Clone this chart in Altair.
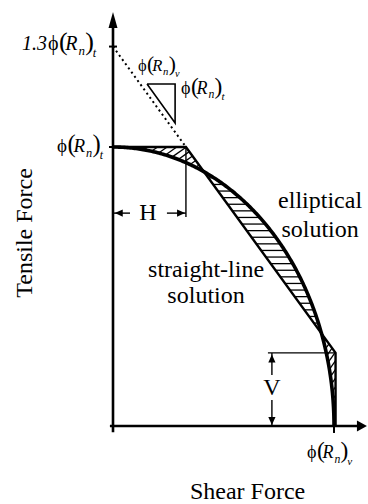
import numpy as np
import pandas as pd
import altair as alt

# Tension / shear interaction for a bolt, in units of phi(Rn)t (vertical) and phi(Rn)v (horizontal)

# straight-line (trilinear) solution vertices
line_x = [0.0, 0.330, 1.007, 1.007]
line_y = [1.0, 1.0, 0.262, 0.0]

# dotted extension of the sloped line to the tension axis
dotted_x = [0.0, 0.330]
dotted_y = [1.36, 1.0]

# tension-axis ticks
tick_y = [1.36, 1.0]

# slope triangle next to the dotted line
tri_x = [0.154, 0.281, 0.281, 0.154]
tri_y = [1.226, 1.226, 1.086, 1.226]

# dimension marks H (at tension 0.763) and V (at shear 0.719)
h_level = 0.763
v_level = 0.719

FONT = "Liberation Serif"
PHI = "\u03d5"

# plot frame
W, H = 368, 504
x_dom = [-0.5113, 1.1538]
y_dom = [-0.2796, 1.5269]
SX = W / (x_dom[1] - x_dom[0])   # px per unit shear
SY = H / (y_dom[1] - y_dom[0])   # px per unit tension

xs = alt.Scale(domain=x_dom, nice=False, zero=False)
ys = alt.Scale(domain=y_dom, nice=False, zero=False)


def X(f="x"):
    return alt.X(f"{f}:Q", scale=xs, axis=None)


def Y(f="y"):
    return alt.Y(f"{f}:Q", scale=ys, axis=None)


# elliptical solution: (V/phiRv)^2 + (T/phiRt)^2 = 1
th = np.linspace(0, np.pi / 2, 241)
ell_x = np.sin(th)
ell_y = np.cos(th)

# crossings of the sloped straight line with the ellipse
m = (line_y[2] - line_y[1]) / (line_x[2] - line_x[1])
b0 = line_y[1] - m * line_x[1]
qa, qb, qc = 1 + m * m, 2 * m * b0, b0 * b0 - 1
disc = np.sqrt(qb * qb - 4 * qa * qc)
cx1, cx2 = sorted([(-qb - disc) / (2 * qa), (-qb + disc) / (2 * qa)])
c1 = (cx1, m * cx1 + b0)
c2 = (cx2, m * cx2 + b0)


def ell_between(xa, xb):
    """ellipse points going from shear xa to xb"""
    t = np.linspace(np.arcsin(xa), np.arcsin(min(xb, 1.0)), 80)
    return list(zip(np.sin(t), np.cos(t)))


lobe_top = [(line_x[0], line_y[0]), (line_x[1], line_y[1]), c1] + ell_between(c1[0], 0.0)
lobe_mid = [c1, c2] + ell_between(c2[0], c1[0])
lobe_bot = [c2, (line_x[2], line_y[2]), (line_x[3], line_y[3])] + ell_between(1.0, c2[0])


def hatch(poly, angle_deg, spacing, phase=0.5):
    """parallel hatch segments clipped to a polygon (spacing in px)"""
    P = np.array([(px * SX, py * SY) for px, py in poly])
    a = np.radians(angle_deg)
    d = np.array([np.cos(a), np.sin(a)])
    n = np.array([-np.sin(a), np.cos(a)])
    proj = P @ n
    segs = []
    c = proj.min() + phase * spacing
    while c < proj.max():
        pts = []
        for i in range(len(P)):
            pa, pb = P[i], P[(i + 1) % len(P)]
            ta, tb = pa @ n - c, pb @ n - c
            if ta * tb < 0:
                q = pa + (pb - pa) * ta / (ta - tb)
                pts.append(q)
        pts.sort(key=lambda q: q @ d)
        for k in range(0, len(pts) - 1, 2):
            p0, p1 = pts[k], pts[k + 1]
            segs.append(dict(x=p0[0] / SX, y=p0[1] / SY, x2=p1[0] / SX, y2=p1[1] / SY))
        c += spacing
    return segs


hatch_df = pd.DataFrame(
    hatch(lobe_top, 35, 5.5) + hatch(lobe_mid, 0, 6.6, 0.6) + hatch(lobe_bot, 55, 5.0)
)

ell_df = pd.DataFrame({"x": ell_x, "y": ell_y, "i": np.arange(len(ell_x))})
line_df = pd.DataFrame({"x": line_x, "y": line_y, "i": range(len(line_x))})
tri_df = pd.DataFrame({"x": tri_x, "y": tri_y, "i": range(len(tri_x))})

# axes, ticks, dotted line and dimension lines as segments
axis_df = pd.DataFrame([
    dict(x=0.0, y=-0.022, x2=0.0, y2=1.45),
    dict(x=-0.014, y=0.0, x2=1.13, y2=0.0),
])
tick_df = pd.DataFrame(
    [dict(x=-0.018, y=t, x2=0.018, y2=t) for t in tick_y]
    + [dict(x=1.0, y=0.0, x2=1.0, y2=-0.025)]
)
dotted_df = pd.DataFrame([dict(x=dotted_x[0], y=dotted_y[0], x2=dotted_x[1], y2=dotted_y[1])])
dim_df = pd.DataFrame([
    dict(x=line_x[1], y=1.0, x2=line_x[1], y2=0.749),          # H extension
    dict(x=0.0, y=h_level, x2=0.077, y2=h_level),               # H left shaft
    dict(x=0.244, y=h_level, x2=line_x[1], y2=h_level),         # H right shaft
    dict(x=0.701, y=line_y[2], x2=line_x[2], y2=line_y[2]),     # V extension
    dict(x=v_level, y=line_y[2], x2=v_level, y2=0.183),         # V upper shaft
    dict(x=v_level, y=0.093, x2=v_level, y2=0.0),               # V lower shaft
])

# arrow heads (tip at the point)
heads = {
    "M0,0L1,-0.45L1,0.45Z": [(0.008, h_level)],
    "M0,0L-1,-0.45L-1,0.45Z": [(line_x[1] - 0.004, h_level)],
    "M0,0L-0.45,1L0.45,1Z": [(v_level, line_y[2] - 0.006)],
    "M0,0L-0.45,-1L0.45,-1Z": [(v_level, 0.004)],
}
axis_heads = {
    "M0,0L-0.28,1L0.28,1Z": ([(0.0, 1.484)], 1024),
    "M0,0L-1,-0.55L-1,0.55Z": ([(1.149, 0.0)], 400),
}

seg = lambda df: alt.Chart(df).encode(x=X(), y=Y(), x2="x2:Q", y2="y2:Q")

layers = []
layers.append(seg(hatch_df).mark_rule(color="black", strokeWidth=1.3))
layers.append(alt.Chart(ell_df).mark_line(color="black", strokeWidth=3.6, strokeJoin="round")
              .encode(x=X(), y=Y(), order="i:Q"))
layers.append(alt.Chart(line_df).mark_line(color="black", strokeWidth=2.4, strokeJoin="miter")
              .encode(x=X(), y=Y(), order="i:Q"))
layers.append(alt.Chart(tri_df).mark_line(color="black", strokeWidth=1.6, strokeJoin="miter")
              .encode(x=X(), y=Y(), order="i:Q"))
layers.append(seg(dotted_df).mark_rule(color="black", strokeWidth=2, strokeDash=[2, 3.2]))
layers.append(seg(axis_df).mark_rule(color="black", strokeWidth=2.6))
layers.append(seg(tick_df).mark_rule(color="black", strokeWidth=2))
layers.append(seg(dim_df).mark_rule(color="black", strokeWidth=1.4))

for shape, pts in heads.items():
    d = pd.DataFrame(pts, columns=["x", "y"])
    layers.append(alt.Chart(d).mark_point(shape=shape, size=256, filled=True, color="black",
                                          opacity=1, strokeWidth=0)
                  .encode(x=X(), y=Y()))
for shape, (pts, sz) in axis_heads.items():
    d = pd.DataFrame(pts, columns=["x", "y"])
    layers.append(alt.Chart(d).mark_point(shape=shape, size=sz, filled=True, color="black",
                                          opacity=1, strokeWidth=0)
                  .encode(x=X(), y=Y()))

# plain words
words = [
    ("elliptical", 0.937, 0.781, 24),
    ("solution", 0.937, 0.677, 24),
    ("straight-line", 0.421, 0.534, 24),
    ("solution", 0.421, 0.441, 24),
    ("Shear Force", 0.609, -0.262, 24),
]
layers.append(alt.Chart(pd.DataFrame(words, columns=["t", "x", "y", "fs"]))
              .mark_text(font=FONT, align="center", baseline="alphabetic", color="black")
              .encode(x=X(), y=Y(), text="t:N", size=alt.Size("fs:Q", scale=None)))
dims = [("H", 0.158, h_level), ("V", v_level, 0.136)]
layers.append(alt.Chart(pd.DataFrame(dims, columns=["t", "x", "y"]))
              .mark_text(font=FONT, align="center", baseline="middle", fontSize=24, color="black")
              .encode(x=X(), y=Y(), text="t:N"))
layers.append(alt.Chart(pd.DataFrame([("Tensile Force", -0.398, 0.692)], columns=["t", "x", "y"]))
              .mark_text(font=FONT, align="center", baseline="middle", fontSize=24, angle=270,
                         color="black")
              .encode(x=X(), y=Y(), text="t:N"))
layers.append(alt.Chart(pd.DataFrame([("1.3", -0.299, 1.348)], columns=["t", "x", "y"]))
              .mark_text(font=FONT, align="right", baseline="alphabetic", fontSize=20,
                         fontStyle="italic", color="black")
              .encode(x=X(), y=Y(), text="t:N"))

# phi(R_n)_sub labels: (left x, baseline y, subscript letter, base font size)
phi_labels = [
    (-0.294, 1.348, "t", 20),
    (-0.253, 0.982, "t", 19),
    (0.113, 1.272, "v", 16.5),
    (0.308, 1.190, "t", 18),
    (0.878, -0.115, "v", 18),
]

# piece layout in em of the base size: text, dx, dy, relative size, italic
PIECES = [
    (PHI, 0.0, 0.0, 1.0, False),
    ("(", 0.55, 0.0, 1.3, False),
    ("R", 0.86, 0.0, 1.0, True),
    ("n", 1.52, 0.25, 0.65, True),
    (")", 1.86, 0.0, 1.3, False),
    (None, 2.24, 0.36, 0.62, True),
]

for lx, ly, sub, s in phi_labels:
    anchor = pd.DataFrame({"x": [lx], "y": [ly]})
    for txt, pdx, pdy, rel, italic in PIECES:
        layers.append(
            alt.Chart(anchor)
            .mark_text(font=FONT, align="left", baseline="alphabetic", color="black",
                       text=txt if txt is not None else sub,
                       dx=pdx * s, dy=pdy * s, fontSize=rel * s,
                       fontStyle="italic" if italic else "normal")
            .encode(x=X(), y=Y())
        )

chart = (
    alt.layer(*layers)
    .properties(width=W, height=H, autosize=alt.AutoSizeParams(type="none"), padding=0,
                background="white")
    .configure_view(stroke=None)
)

chart.save("out.html", embed_options={"renderer": "svg", "actions": False})
